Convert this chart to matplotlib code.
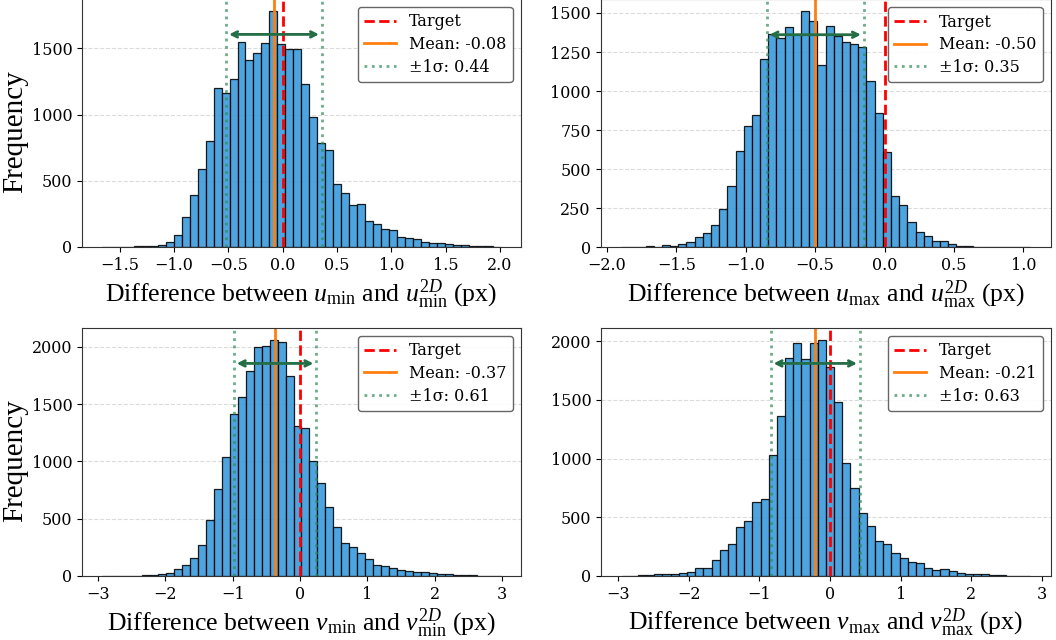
import numpy as np
import matplotlib
matplotlib.use("Agg")
import matplotlib.pyplot as plt

plt.rcParams['font.family'] = 'DejaVu Serif'
plt.rcParams['mathtext.fontset'] = 'custom'
plt.rcParams['mathtext.rm'] = 'Liberation Serif'
plt.rcParams['mathtext.it'] = 'Liberation Serif:italic'

# data range of each histogram (min, max) and 50 bin counts
range_umin = (-1.664, 2.006)
counts_umin = [1, 0, 1, 2, 4, 6, 10, 18, 35, 90, 230, 390, 590, 800, 1200, 1160, 1270, 1550, 1410, 1465,
               1545, 1785, 1535, 1495, 1495, 1230, 985, 785, 735, 475, 405, 315, 325, 195, 175, 135, 125, 78, 70, 60,
               35, 30, 32, 25, 12, 12, 8, 5, 4, 2]

range_umax = (-1.900, 1.049)
counts_umax = [2, 3, 4, 6, 5, 12, 10, 22, 32, 65, 92, 140, 248, 390, 618, 778, 845, 1207, 1363, 1337,
               1410, 1363, 1512, 1446, 1169, 1418, 1352, 1316, 1299, 1284, 1062, 857, 608, 326, 269, 160, 96, 70, 38, 43,
               21, 9, 8, 2, 1, 1, 1, 0, 1, 3]

range_vmin = (-2.934, 2.978)
counts_vmin = [1, 0, 1, 1, 3, 6, 9, 15, 29, 58, 93, 160, 268, 486, 757, 1036, 1415, 1566, 1787, 1997,
               2009, 2061, 2038, 1741, 1307, 1290, 1007, 812, 603, 428, 291, 253, 201, 148, 99, 90, 73, 50, 47, 32,
               32, 23, 17, 15, 12, 9, 6, 3, 2, 2]

range_vmax = (-2.951, 2.833)
counts_vmax = [3, 3, 6, 9, 14, 17, 14, 28, 37, 68, 71, 136, 222, 270, 415, 469, 628, 653, 1034, 1364,
               1858, 1986, 1847, 1980, 2011, 1778, 1480, 966, 753, 534, 423, 295, 276, 193, 156, 116, 108, 65, 48, 60,
               40, 28, 20, 14, 14, 9, 6, 4, 3, 1]

means = [-0.08, -0.50, -0.37, -0.21]
sigmas = [0.44, 0.35, 0.61, 0.63]
xlabels = [r'Difference between $u_{\min}$ and $u^{2D}_{\min}$ (px)',
           r'Difference between $u_{\max}$ and $u^{2D}_{\max}$ (px)',
           r'Difference between $v_{\min}$ and $v^{2D}_{\min}$ (px)',
           r'Difference between $v_{\max}$ and $v^{2D}_{\max}$ (px)']
ranges = [range_umin, range_umax, range_vmin, range_vmax]
counts = [counts_umin, counts_umax, counts_vmin, counts_vmax]

positions = [[0.0777, 0.6141, 0.4152, 0.3875],
             [0.5687, 0.6136, 0.4261, 0.3875],
             [0.0779, 0.1000, 0.4152, 0.3875],
             [0.5693, 0.1000, 0.4257, 0.3875]]

fig = plt.figure(figsize=(10.56, 6.4), dpi=100)

for i in range(4):
    ax = fig.add_axes(positions[i])
    c = np.array(counts[i], dtype=float)
    edges = np.linspace(ranges[i][0], ranges[i][1], len(c) + 1)
    centers = (edges[:-1] + edges[1:]) / 2
    ax.hist(centers, bins=edges, weights=c, color='#3498db', alpha=0.88,
            edgecolor='black', linewidth=0.9)
    m, s = means[i], sigmas[i]
    ax.axvline(0, color='red', linestyle='--', linewidth=2, label='Target')
    ax.axvline(m, color='#ff7f0e', linestyle='-', linewidth=2, label='Mean: %.2f' % m)
    ax.axvline(m - s, color='seagreen', linestyle=':', linewidth=2, alpha=0.7,
               label='±1σ: %.2f' % s)
    ax.axvline(m + s, color='seagreen', linestyle=':', linewidth=2, alpha=0.7)
    ytop = c.max() * 0.9
    ax.annotate('', xy=(m - s, ytop), xytext=(m + s, ytop),
                arrowprops=dict(arrowstyle='<->', color='#236e45', lw=2))
    ax.set_xlim(edges[0] - 0.05 * (edges[-1] - edges[0]), edges[-1] + 0.05 * (edges[-1] - edges[0]))
    ax.set_ylim(0, c.max() * 1.05)
    ax.grid(axis='y', linestyle='--', color='#cccccc', alpha=0.7, linewidth=0.8)
    ax.set_axisbelow(True)
    ax.tick_params(labelsize=11.5)
    for sp in ax.spines.values():
        sp.set_color('#333333')
    ax.set_xlabel(xlabels[i], fontsize=18.5, family='Liberation Serif', labelpad=3)
    if i % 2 == 0:
        ax.set_ylabel('Frequency', fontsize=21, family='Liberation Serif')
        ax.yaxis.set_label_coords(-0.123, 0.464)
    ax.legend(loc='upper right', fontsize=11.5, framealpha=0.9, edgecolor='#555555',
              labelspacing=0.35)

fig.savefig('out.png', dpi=100)
